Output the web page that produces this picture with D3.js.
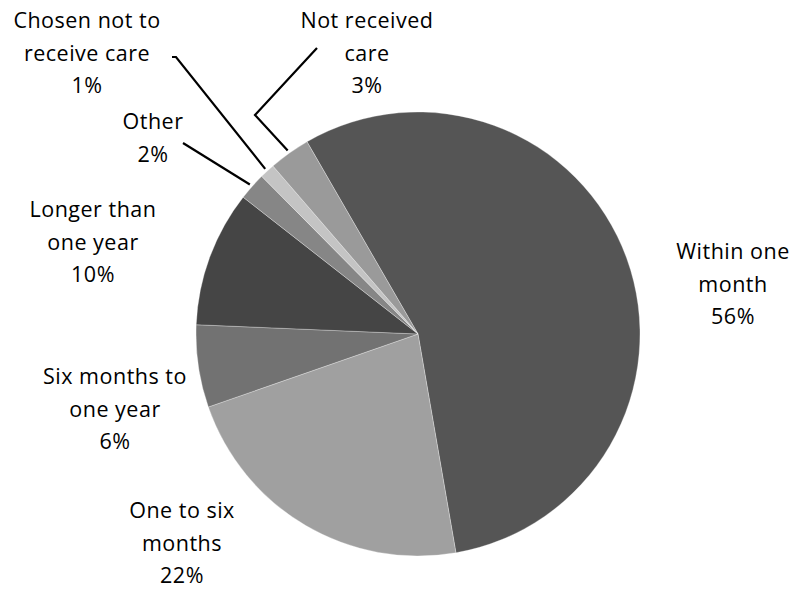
<!DOCTYPE html>
<html><head><meta charset="utf-8">
<script src="https://cdn.jsdelivr.net/npm/d3@7"></script>
<style>html,body{margin:0;padding:0;background:#fff;}svg{display:block;}</style>
</head><body>
<svg id="chart" width="796" height="590"></svg>
<script>
const categories = ["Within one month","One to six months","Six months to one year","Longer than one year","Other","Chosen not to receive care","Not received care"];
const values = [55.6, 22.4, 6.0, 9.9, 2.0, 1.1, 3.0];
const colors = ["#555555","#a0a0a0","#727272","#454545","#868686","#c4c4c4","#9a9a9a"];
const labelLines = [["Within one","month"],["One to six","months"],["Six months to","one year"],["Longer than","one year"],["Other"],["Chosen not to","receive care"],["Not received","care"]];

const svg = d3.select("#chart");
const cx = 418, cy = 334, r = 222;
const g = svg.append("g").attr("transform", `translate(${cx},${cy})`);
const startA = -30 * Math.PI / 180;
const pie = d3.pie().sort(null).value(d => d).startAngle(startA).endAngle(startA + 2 * Math.PI);
const arcs = pie(values);
const arc = d3.arc().innerRadius(0).outerRadius(r);
g.selectAll("path.slice").data(arcs).enter().append("path")
  .attr("class","slice").attr("d", arc)
  .attr("fill", (d,i) => colors[i]).attr("stroke", "#ffffff").attr("stroke-width", 0.6).attr("stroke-opacity",0.5);

// label positions (absolute): center x and first baseline
const labelPos = [[733,259],[182,518],[115,384],[93,217],[153,129],[87,28],[367,28]];
const lh = 32.5;
const fmt = d3.format(".0%");
categories.forEach((c,i) => {
  const lines = labelLines[i].concat([fmt(values[i]/100)]);
  const t = svg.append("text").attr("text-anchor","middle")
    .attr("font-family","'Open Sans', sans-serif").attr("font-size", 21.5)
    .attr("letter-spacing", 0.5).attr("fill","#000");
  lines.forEach((ln,j) => t.append("tspan").attr("x", labelPos[i][0]).attr("y", labelPos[i][1] + j*lh).text(ln));
});

function edgePoint(i, rr) {
  const a = (arcs[i].startAngle + arcs[i].endAngle) / 2;
  return [cx + rr * Math.sin(a), cy - rr * Math.cos(a)];
}
const leaders = [
  {i:4, pts:[[183,143]]},
  {i:5, pts:[[172,57],[176,57]]},
  {i:6, pts:[[317,48],[255,115]]}
];
leaders.forEach(L => {
  const e = edgePoint(L.i, r + 3);
  const pts = L.pts.concat([e]);
  svg.append("path").attr("d", d3.line()(pts)).attr("fill","none").attr("stroke","#000").attr("stroke-width",2.2);
});
</script>
</body></html>
